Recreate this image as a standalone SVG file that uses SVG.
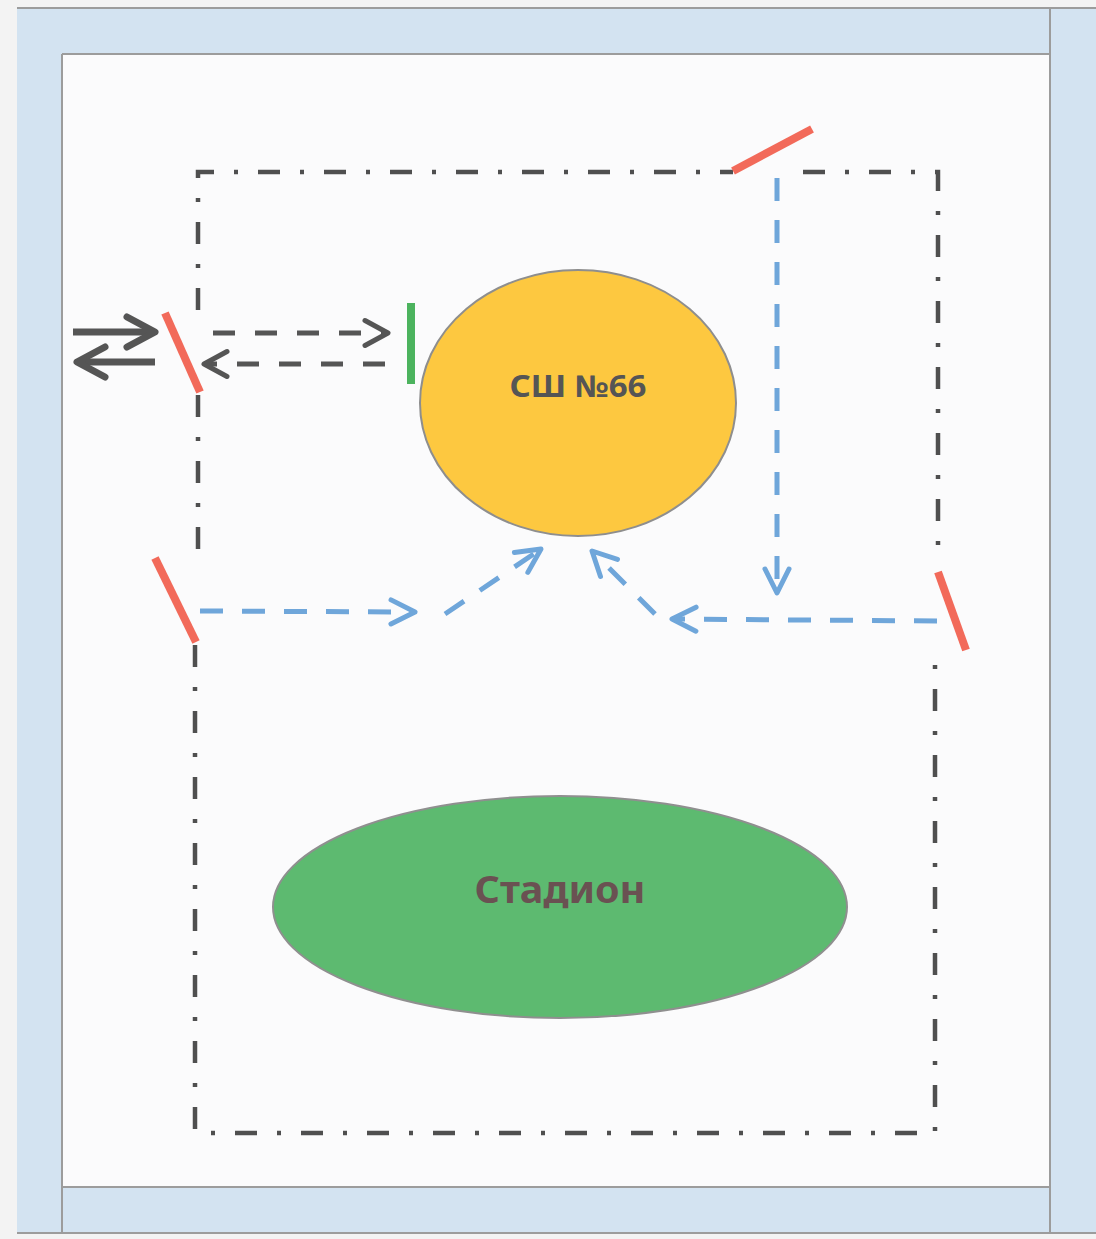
<svg xmlns="http://www.w3.org/2000/svg" width="1096" height="1239" viewBox="0 0 1096 1239">
  <defs>
    <style>
      .frame-line { stroke: #9c9c9c; stroke-width: 2; fill: none; }
      .fence { stroke: #4f4f4f; stroke-width: 4.5; fill: none; stroke-dasharray: 22 20 4 20; }
      .gate { stroke: #f26a5a; stroke-width: 8; stroke-linecap: butt; fill: none; }
      .blue { stroke: #6fa6da; stroke-width: 5; fill: none; stroke-dasharray: 23 19; }
      .dark-dash { stroke: #555555; stroke-width: 5; fill: none; stroke-dasharray: 22 20; }
      .dark-solid { stroke: #555555; stroke-width: 7; fill: none; }
      .label { font-family: "Noto Sans", "Open Sans", "Liberation Sans", sans-serif; font-weight: bold; text-anchor: middle; }
    </style>
    <marker id="blueHead" markerUnits="userSpaceOnUse" viewBox="-30 -16 34 32" refX="0" refY="0" markerWidth="34" markerHeight="32" orient="auto">
      <path d="M-24,-12 L0,0 L-24,12" fill="none" stroke="#6fa6da" stroke-width="5" stroke-dasharray="none" stroke-linecap="round" stroke-linejoin="round"/>
    </marker>
    <marker id="darkHead" markerUnits="userSpaceOnUse" viewBox="-30 -16 34 32" refX="0" refY="0" markerWidth="34" markerHeight="32" orient="auto">
      <path d="M-23,-12.5 L0,0 L-23,12.5" fill="none" stroke="#555555" stroke-width="5" stroke-dasharray="none" stroke-linecap="round" stroke-linejoin="round"/>
    </marker>
    <marker id="solidHead" markerUnits="userSpaceOnUse" viewBox="-36 -20 40 40" refX="0" refY="0" markerWidth="40" markerHeight="40" orient="auto">
      <path d="M-28,-15 L0,0 L-28,15" fill="none" stroke="#555555" stroke-width="7" stroke-linecap="round" stroke-linejoin="round"/>
    </marker>
  </defs>

  <!-- page / frame -->
  <g id="frame">
    <rect x="0" y="0" width="1096" height="1239" fill="#f3f3f3"/>
    <rect x="17" y="8" width="1079" height="1225" fill="#d3e3f1"/>
    <rect x="62" y="54" width="988" height="1133" fill="#fbfbfc"/>
    <line class="frame-line" x1="17" y1="8" x2="1096" y2="8"/>
    <line class="frame-line" x1="62" y1="54" x2="1050" y2="54"/>
    <line class="frame-line" x1="62" y1="1187" x2="1050" y2="1187"/>
    <line class="frame-line" x1="17" y1="1233" x2="1096" y2="1233"/>
    <line class="frame-line" x1="1050" y1="8" x2="1050" y2="1233"/>
    <line class="frame-line" x1="62" y1="54" x2="62" y2="1233" stroke="#c6d6e4"/>
  </g>

  <!-- territory fence (dash-dot) -->
  <g id="fence">
    <path class="fence" d="M198,310 V172 H733"/>
    <path class="fence" d="M803,172 H938 V552"/>
    <path class="fence" d="M198,395 V552"/>
    <path class="fence" d="M195,645 V1133 H935 V655"/>
  </g>

  <!-- gates -->
  <g id="gates">
    <line class="gate" x1="733" y1="171" x2="812" y2="129"/>
    <line class="gate" x1="165" y1="313" x2="200" y2="392"/>
    <line class="gate" x1="155" y1="558" x2="196" y2="642"/>
    <line class="gate" x1="938" y1="572" x2="966" y2="650"/>
    <line x1="411" y1="303" x2="411" y2="384" stroke="#4cb35e" stroke-width="8"/>
  </g>

  <!-- school -->
  <g id="school">
    <ellipse cx="578" cy="403" rx="158" ry="133" fill="#fdc840" stroke="#8e8e8e" stroke-width="2"/>
    <text class="label" x="578" y="397" font-size="30" fill="#555555" textLength="137" lengthAdjust="spacingAndGlyphs">СШ №66</text>
  </g>

  <!-- stadium -->
  <g id="stadium">
    <ellipse cx="560" cy="907" rx="287" ry="111" fill="#5dba70" stroke="#8f8f8f" stroke-width="2"/>
    <text class="label" x="560" y="903" font-size="38" fill="#6a5152" textLength="171" lengthAdjust="spacingAndGlyphs">Стадион</text>
  </g>

  <!-- connectors -->
  <g id="connectors">
    <!-- outside entry/exit -->
    <line class="dark-solid" x1="73" y1="332" x2="155" y2="332" marker-end="url(#solidHead)"/>
    <line class="dark-solid" x1="155" y1="362" x2="77" y2="362" marker-end="url(#solidHead)"/>
    <!-- gate to school entrance -->
    <line class="dark-dash" x1="213" y1="333" x2="388" y2="333" marker-end="url(#darkHead)"/>
    <line class="dark-dash" x1="385" y1="364" x2="204" y2="364" marker-end="url(#darkHead)"/>
    <!-- blue routes -->
    <line class="blue" x1="777" y1="178" x2="777" y2="593" marker-end="url(#blueHead)"/>
    <line class="blue" x1="200" y1="611" x2="415" y2="612" marker-end="url(#blueHead)"/>
    <line class="blue" x1="445" y1="614" x2="541" y2="549" marker-end="url(#blueHead)"/>
    <line class="blue" x1="937" y1="621" x2="672" y2="619" marker-end="url(#blueHead)"/>
    <line class="blue" x1="655" y1="614" x2="592" y2="551" marker-end="url(#blueHead)"/>
  </g>
</svg>
